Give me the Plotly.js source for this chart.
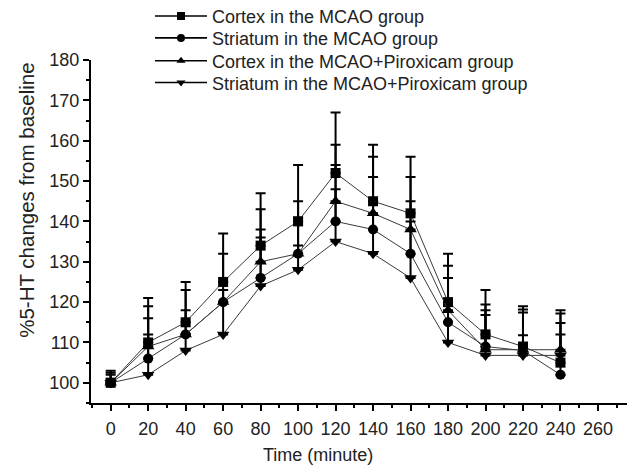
<!DOCTYPE html>
<html>
<head>
<meta charset="utf-8">
<script src="https://cdn.plot.ly/plotly-3.0.1.min.js"></script>
<style>html,body{margin:0;padding:0;background:#fff;}#chart{width:632px;height:471px;}</style>
</head>
<body>
<div id="chart"></div>
<script>
// Time points (minutes)
const timePoints = [0, 20, 40, 60, 80, 100, 120, 140, 160, 180, 200, 220, 240];

// Series names
const seriesNames = [
  "Cortex in the MCAO group",
  "Striatum in the MCAO group",
  "Cortex in the MCAO+Piroxicam group",
  "Striatum in the MCAO+Piroxicam group"
];

// Mean values (% of baseline)
const cortexMCAO = [100, 110, 115, 125, 134, 140, 152, 145, 142, 120, 112, 109, 105];
const striatumMCAO = [100, 106, 112, 120, 126, 132, 140, 138, 132, 115, 109, 108, 102];
const cortexPirox = [100, 109, 112, 120, 130, 132, 145, 142, 138, 118, 108.2, 108.2, 108.2];
const striatumPirox = [100, 102, 108, 112, 124, 128, 135, 132, 126, 110, 106.8, 106.8, 106.8];

// Upper error bars
const errCortexMCAO = [3, 11, 10, 12, 13, 14, 15, 14, 14, 12, 11, 10, 13];
const errStriatumMCAO = [2.5, 10, 6, 3, 12, 9, 14, 13, 13, 11, 9, 9.4, 10];
const errCortexPirox = [2, 10, 11, 12, 13, 13, 14, 14, 13, 11, 11.2, 10, 9];
const errStriatumPirox = [1, 10, 4, 8, 12, 6, 13, 13, 14, 10, 10, 5, 8];

// Tick labels
const xTickVals = [0, 20, 40, 60, 80, 100, 120, 140, 160, 180, 200, 220, 240, 260];
const yTickVals = [100, 110, 120, 130, 140, 150, 160, 170, 180];

const FONT = "Arial, 'Liberation Sans', sans-serif";
const symbols = ["square", "circle", "triangle-up", "triangle-down"];
const sizes = [10, 10, 11, 11];
const legendIds = ["legend", "legend2", "legend3", "legend4"];
const legendRowsPx = [20, 35, 58, 80];
const legendNudgePx = [-7, 0, 0, 0];

function zeros(n) { return new Array(n).fill(0); }

function makeTrace(i, y, err) {
  return {
    type: "scatter",
    mode: "lines+markers",
    name: seriesNames[i],
    showlegend: false,
    x: timePoints,
    y: y,
    line: { color: "#3a3a3a", width: 1 },
    marker: { symbol: symbols[i], size: sizes[i], color: "#000" },
    error_y: {
      type: "data",
      symmetric: false,
      array: err,
      arrayminus: zeros(err.length),
      color: "#000",
      thickness: 2,
      width: 5
    }
  };
}

function legendTrace(i) {
  return {
    type: "scatter",
    mode: "lines+markers",
    name: seriesNames[i],
    legend: legendIds[i],
    x: [null],
    y: [null],
    line: { color: "#000", width: 1.6 },
    marker: { symbol: symbols[i], size: 8, color: "#000" }
  };
}

const traces = [
  makeTrace(0, cortexMCAO, errCortexMCAO),
  makeTrace(1, striatumMCAO, errStriatumMCAO),
  makeTrace(2, cortexPirox, errCortexPirox),
  makeTrace(3, striatumPirox, errStriatumPirox),
  legendTrace(0), legendTrace(1), legendTrace(2), legendTrace(3)
];

const L = 91, T = 57, R = 5, B = 68;
const plotW = 632 - L - R, plotH = 471 - T - B;
function px2x(px) { return (px - L) / plotW; }
function px2y(py) { return (471 - B - py) / plotH; }

const layout = {
  width: 632,
  height: 471,
  margin: { l: L, r: R, t: T, b: B },
  paper_bgcolor: "#fff",
  plot_bgcolor: "#fff",
  font: { family: FONT, size: 18, color: "#222" },
  showlegend: true,
  xaxis: {
    range: [-10.5, 275.5],
    tickvals: xTickVals,
    ticktext: xTickVals.map(String),
    ticks: "outside", ticklen: 6, tickwidth: 2, tickcolor: "#000",
    ticklabelstandoff: 2,
    minor: { dtick: 10, tick0: 0, ticks: "outside", ticklen: 3, tickwidth: 2, tickcolor: "#000", showgrid: false },
    showline: true, linecolor: "#000", linewidth: 2,
    showgrid: false, zeroline: false,
    tickfont: { family: FONT, size: 18, color: "#222" },
    title: { text: "" }
  },
  yaxis: {
    range: [95, 180],
    tickvals: yTickVals,
    ticktext: yTickVals.map(String),
    ticks: "outside", ticklen: 6, tickwidth: 2, tickcolor: "#000",
    minor: { dtick: 5, tick0: 95, ticks: "outside", ticklen: 3, tickwidth: 2, tickcolor: "#000", showgrid: false },
    showline: true, linecolor: "#000", linewidth: 2,
    showgrid: false, zeroline: false,
    tickfont: { family: FONT, size: 18, color: "#222" },
    title: { text: "" }
  },
  annotations: [
    {
      text: "Time (minute)", xref: "paper", yref: "paper",
      x: px2x(318), y: px2y(455), xanchor: "center", yanchor: "middle",
      showarrow: false, font: { family: FONT, size: 18, color: "#222" }
    },
    {
      text: "%5-HT changes from baseline", xref: "paper", yref: "paper",
      x: px2x(27), y: px2y(199), xanchor: "center", yanchor: "middle", textangle: -90,
      showarrow: false, font: { family: FONT, size: 20.5, color: "#222" }
    }
  ]
};

legendIds.forEach(function (id, i) {
  layout[id] = {
    x: px2x(150), y: px2y(legendRowsPx[i]),
    xanchor: "left", yanchor: "middle",
    bgcolor: "rgba(0,0,0,0)",
    borderwidth: 0,
    itemwidth: 52,
    font: { family: FONT, size: 18, color: "#222" }
  };
});

Plotly.newPlot("chart", traces, layout, { staticPlot: true, displayModeBar: false }).then(function (gd) {
  // small vertical nudge of the top legend row
  legendIds.forEach(function (id, i) {
    if (!legendNudgePx[i]) return;
    const lg = gd.querySelector("g." + id);
    if (!lg) return;
    const t = lg.getAttribute("transform") || "";
    const m = t.match(/translate\(\s*([-\d.]+)[ ,]+([-\d.]+)\s*\)/);
    if (m) lg.setAttribute("transform", "translate(" + m[1] + "," + (parseFloat(m[2]) + legendNudgePx[i]) + ")");
  });
});
</script>
</body>
</html>
